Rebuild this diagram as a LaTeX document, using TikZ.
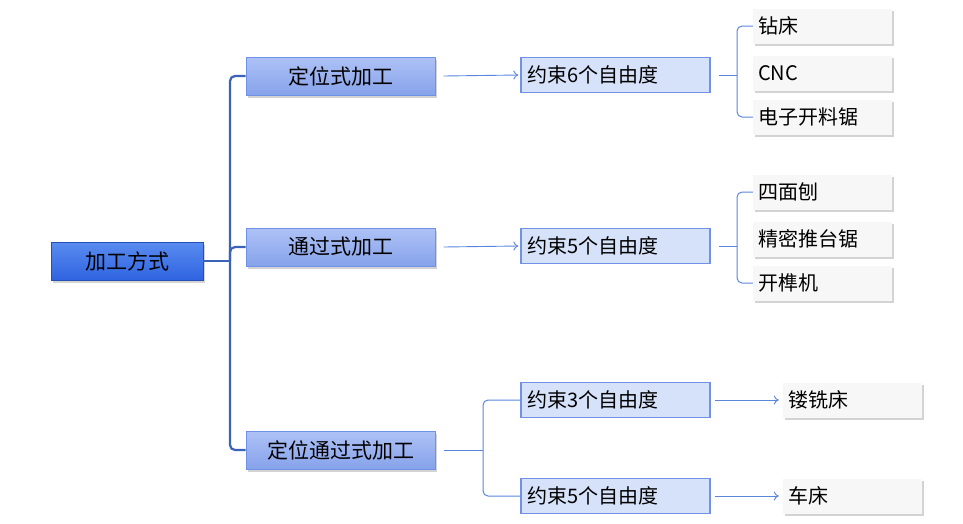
\documentclass[tikz,border=0pt]{standalone}
\usepackage{fontspec}
\setmainfont{Noto Sans CJK SC}
\usetikzlibrary{shadows,arrows.meta}
\definecolor{rtop}{HTML}{5A8CF0}
\definecolor{rbot}{HTML}{2F63E0}
\definecolor{ltop}{HTML}{AEC2F6}
\definecolor{lbot}{HTML}{86A2EA}
\definecolor{lbord}{HTML}{6F92E6}
\definecolor{ltwofill}{HTML}{D6E2FA}
\definecolor{lnk}{HTML}{5A86DE}
\definecolor{thk}{HTML}{3A62B8}
\begin{document}
\begin{tikzpicture}[x=1pt,y=-1pt,
 shad/.style={drop shadow={opacity=0.35,shadow xshift=1.5pt,shadow yshift=-2.5pt,fill=black!50}},
 root/.style={draw=rbot!80!black,line width=0.6pt,top color=rtop,bottom color=rbot,
   minimum width=152pt,minimum height=38pt,inner sep=0pt,font=\fontsize{21}{21}\selectfont,shad},
 lone/.style={draw=lbord,line width=1pt,top color=ltop,bottom color=lbot,
   minimum width=189pt,minimum height=38pt,inner sep=0pt,font=\fontsize{21}{21}\selectfont,shad},
 ltwo/.style={draw=lbord,line width=1.3pt,fill=ltwofill,minimum width=189pt,minimum height=35pt,inner sep=0pt,
   text width=177pt,align=left,font=\fontsize{20}{20}\selectfont},
 leaf/.style={fill=black!3,minimum width=139pt,minimum height=35pt,inner sep=0pt,text width=129pt,align=left,
   font=\fontsize{20}{20}\selectfont,shad},
 thick/.style={draw=thk,line width=2.2pt,rounded corners=5pt},
 thin/.style={draw=lnk,line width=1pt,rounded corners=5pt},
 arr/.style={draw=lnk,line width=0.9pt,-{To[length=5pt,width=9pt]}}]
\useasboundingbox (0,0) rectangle (963,523);
\node[root] (r) at (127,261) {加工方式};
\node[lone] (a) at (340.5,76) {定位式加工};
\node[lone] (b) at (340.5,247) {通过式加工};
\node[lone] (c) at (340.5,450) {定位通过式加工};
\node[ltwo] (a1) at (615.5,75) {约束6个自由度};
\node[ltwo] (b1) at (615.5,246) {约束5个自由度};
\node[ltwo] (c1) at (615.5,400) {约束3个自由度};
\node[ltwo] (c2) at (615.5,496) {约束5个自由度};
\node[leaf] (l1) at (822.5,26) {钻床};
\node[leaf] (l2) at (822.5,73) {CNC};
\node[leaf] (l3) at (822.5,117) {电子开料锯};
\node[leaf] (l4) at (822.5,192) {四面刨};
\node[leaf] (l5) at (822.5,239) {精密推台锯};
\node[leaf] (l6) at (822.5,283) {开榫机};
\node[leaf] (l7) at (852.5,400) {镂铣床};
\node[leaf] (l8) at (852.5,496) {车床};
\coordinate (rj) at (230,261);
\draw[thick] (r.east) -- (rj);
\draw[thick] (rj) |- (a.west);
\draw[thick] (rj) |- (b.west);
\draw[thick] (rj) |- (c.west);
\draw[arr] ([xshift=8pt]a.east) -- ([xshift=-2pt]a1.west);
\draw[arr] ([xshift=8pt]b.east) -- ([xshift=-2pt]b1.west);
\coordinate (aj) at (737,75);
\draw[thin] ([xshift=8pt]a1.east) -- (aj);
\draw[thin] (aj) |- (l1.west);
\draw[thin] (aj) |- (l3.west);
\coordinate (bj) at (737,246);
\draw[thin] ([xshift=8pt]b1.east) -- (bj);
\draw[thin] (bj) |- (l4.west);
\draw[thin] (bj) |- (l6.west);
\coordinate (cj) at (483,450);
\draw[thin] ([xshift=8pt]c.east) -- (cj);
\draw[thin] (cj) |- (c1.west);
\draw[thin] (cj) |- (c2.west);
\draw[arr] ([xshift=4pt]c1.east) -- ([xshift=-4pt]l7.west);
\draw[arr] ([xshift=4pt]c2.east) -- ([xshift=-4pt]l8.west);
\end{tikzpicture}
\end{document}
